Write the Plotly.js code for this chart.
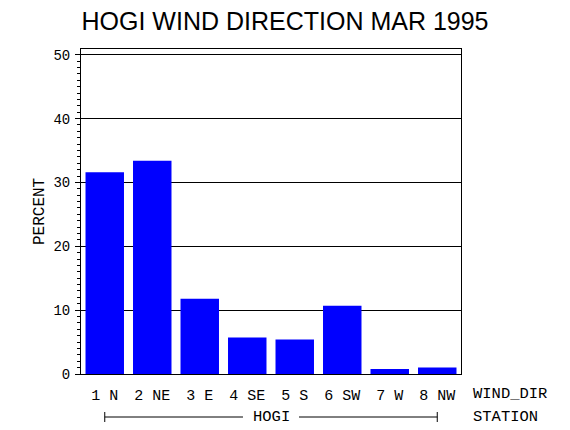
<!DOCTYPE html>
<html>
<head>
<meta charset="utf-8">
<script src="https://cdn.plot.ly/plotly-3.0.1.min.js"></script>
<style>
  html, body { margin: 0; padding: 0; background: #fff; }
  #chart { width: 570px; height: 430px; }
</style>
</head>
<body>
<div id="chart"></div>
<script>
// wind direction frequency, HOGI station, March 1995
const windDirs = ['1 N', '2 NE', '3 E', '4 SE', '5 S', '6 SW', '7 W', '8 NW'];
const percents = [31.6, 33.4, 11.8, 5.7, 5.4, 10.7, 0.8, 1.0];
const yTicks = [0, 10, 20, 30, 40, 50];
const stationName = 'HOGI';

const mono = 'Liberation Mono, DejaVu Sans Mono, monospace';

const trace = {
  type: 'bar',
  x: windDirs,
  y: percents,
  marker: { color: '#0000ff', line: { width: 0 } },
  hoverinfo: 'x+y'
};

// pixel helpers for the plot box (81..461 x 49..374)
const px = v => (v - 81) / 380;
const py = v => (374 - v) / 325;

// station bracket under the categories, with a gap for the name
const brY = py(417);
const bracketLine = (x0, x1, y0, y1) => ({
  type: 'line', xref: 'x', yref: 'paper', x0, x1, y0, y1,
  line: { color: '#000', width: 1 }
});

const layout = {
  width: 570,
  height: 430,
  margin: { l: 81, r: 109, t: 49, b: 56, pad: 0 },
  paper_bgcolor: '#fff',
  plot_bgcolor: '#fff',
  bargap: 0.19,
  showlegend: false,
  font: { family: mono, size: 15, color: '#000' },
  title: {
    text: 'HOGI WIND DIRECTION MAR 1995',
    font: { family: 'Liberation Sans, Arial, sans-serif', size: 25, color: '#000' },
    x: 0.5, xref: 'container', xanchor: 'center',
    y: 1 - 21 / 430, yref: 'container', yanchor: 'middle'
  },
  xaxis: {
    type: 'category',
    range: [-0.5, 7.5],
    showgrid: false,
    showline: true,
    linecolor: '#000',
    linewidth: 1,
    mirror: true,
    ticks: '',
    ticklabelstandoff: 7,
    tickfont: { family: mono, size: 15, color: '#000' },
    fixedrange: true
  },
  yaxis: {
    range: [0, 50.9],
    tickvals: yTicks,
    ticktext: yTicks.map(String),
    showgrid: true,
    gridcolor: '#000',
    gridwidth: 1,
    zeroline: false,
    showline: true,
    linecolor: '#000',
    linewidth: 1,
    mirror: true,
    ticks: 'outside',
    ticklen: 5,
    tickcolor: '#000',
    ticklabelstandoff: 2,
    tickfont: { family: mono, size: 14, color: '#000' },
    minor: { dtick: 1, ticks: 'outside', ticklen: 3, tickcolor: '#000', showgrid: false },
    fixedrange: true
  },
  annotations: [
    { text: 'PERCENT', xref: 'paper', yref: 'paper', x: px(40), y: py(212),
      xanchor: 'center', yanchor: 'middle',
      textangle: -90, showarrow: false, font: { family: mono, size: 16 } },
    { text: 'WIND_DIR', xref: 'paper', yref: 'paper', x: px(471), y: py(394),
      xanchor: 'left', yanchor: 'middle', showarrow: false, font: { family: mono, size: 15.5 } },
    { text: 'STATION', xref: 'paper', yref: 'paper', x: px(471), y: py(417),
      xanchor: 'left', yanchor: 'middle', showarrow: false, font: { family: mono, size: 15.5 } },
    { text: stationName, xref: 'x', yref: 'paper', x: 3.5, y: brY,
      xanchor: 'center', yanchor: 'middle', showarrow: false,
      font: { family: mono, size: 15.5 } }
  ],
  shapes: [
    bracketLine(0, 2.91, brY, brY),
    bracketLine(4.09, 7, brY, brY),
    bracketLine(0, 0, py(412), py(422)),
    bracketLine(7, 7, py(412), py(422))
  ]
};

Plotly.newPlot('chart', [trace], layout, { staticPlot: true, displayModeBar: false });
</script>
</body>
</html>
